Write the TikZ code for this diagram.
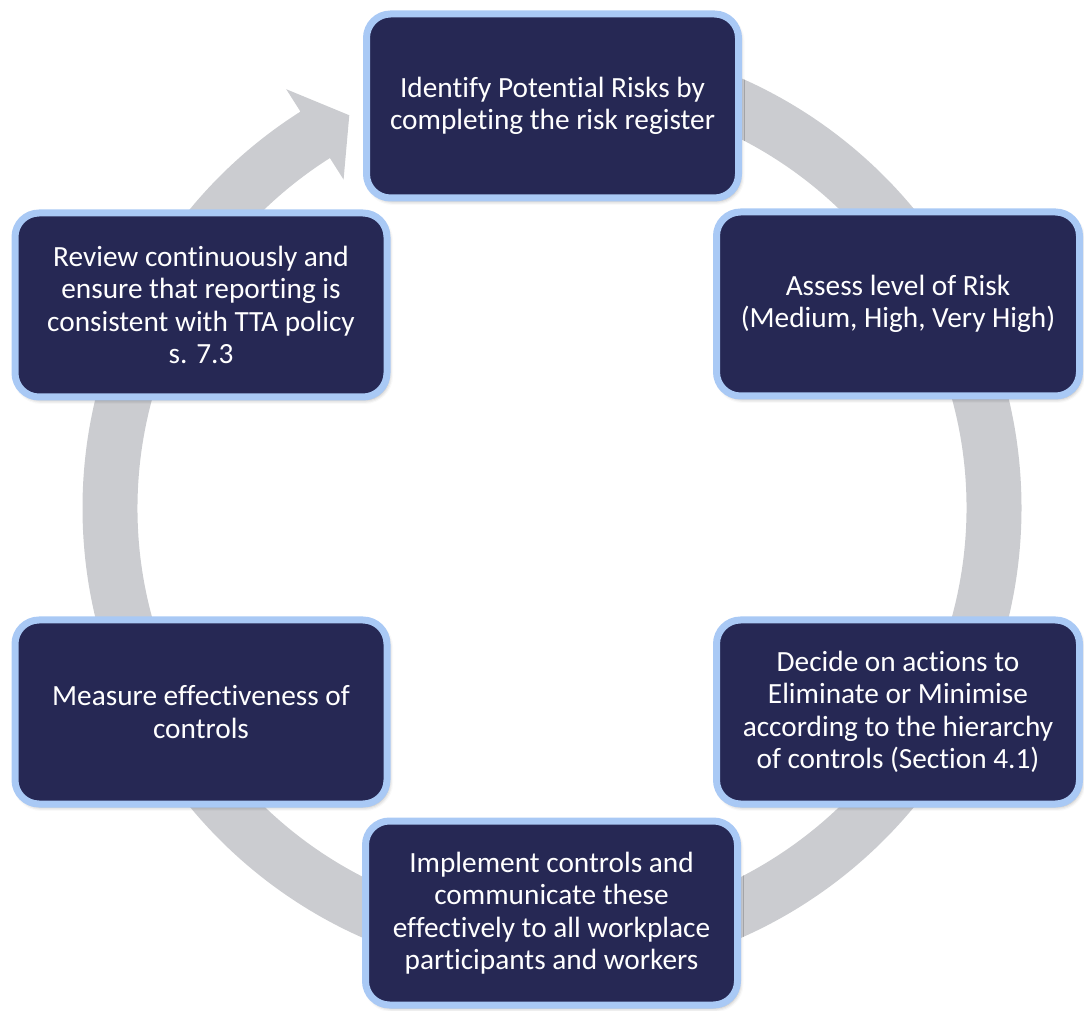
\documentclass[tikz,border=0pt]{standalone}
\usepackage{fontspec}
\setmainfont{Carlito}[Ligatures=NoCommon]
\usetikzlibrary{shadows.blur}
\definecolor{navy}{HTML}{262854}
\definecolor{edgeblue}{HTML}{A9C9F5}
\definecolor{ringgray}{HTML}{CBCCD0}
\tikzset{
  stepbox/.style={draw=edgeblue, line width=7pt, fill=navy, rounded corners=24pt,
    minimum width=372pt, minimum height=184pt, text=white, align=center,
    font=\fontsize{29.3}{32.5}\selectfont, inner sep=0pt,
    blur shadow={shadow xshift=2pt, shadow yshift=-3pt, shadow blur radius=4pt, shadow opacity=35}},
  narrowbox/.style={stepbox, minimum width=363pt}
}
\begin{document}
\begin{tikzpicture}[x=1pt,y=1pt]
\useasboundingbox (0,0) rectangle (1084,1010);
% ring with arrow head
\begin{scope}[shift={(552,502)}]
\fill[ringgray] (90:469.5pt) arc[start angle=90, end angle=-237.6, radius=469.5pt]
  -- (122.4:496pt) -- (117.3:442pt) -- (122.4:389pt) -- (122.4:414.5pt)
  arc[start angle=-237.6, end angle=90, radius=414.5pt] -- cycle;
\end{scope}
\node[stepbox] (identify) at (552.5,904) {Identify Potential Risks by\\completing the risk register};
\node[narrowbox] (assess) at (898,706) {Assess level of Risk\\(Medium, High, Very High)};
\node[narrowbox] (decide) at (898,298) {Decide on actions to\\Eliminate or Minimise\\according to the hierarchy\\of controls (Section 4.1)};
\node[stepbox] (implement) at (551.5,97) {Implement controls and\\communicate these\\effectively to all workplace\\participants and workers};
\node[stepbox] (measure) at (201,298) {Measure effectiveness of\\controls};
\node[stepbox] (review) at (201,705) {Review continuously and\\ensure that reporting is\\consistent with TTA policy\\s. 7.3};
\end{tikzpicture}
\end{document}
